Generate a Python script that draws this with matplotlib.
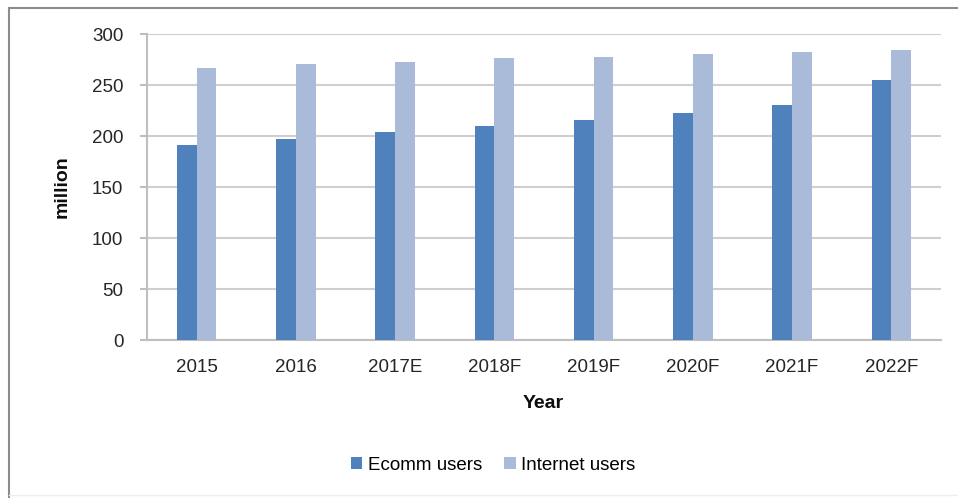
import matplotlib
matplotlib.use("Agg")
import matplotlib.pyplot as plt
from matplotlib.lines import Line2D
import numpy as np

years = ["2015", "2016", "2017E", "2018F", "2019F", "2020F", "2021F", "2022F"]
ecomm_users = [191, 197, 204, 210, 216, 223, 230, 255]
internet_users = [267, 271, 273, 276, 277, 280, 282, 284]
y_ticks = [0, 50, 100, 150, 200, 250, 300]

plt.rcParams['font.family'] = ['Liberation Sans', 'DejaVu Sans']

fig = plt.figure(figsize=(9.58, 4.98), dpi=100)
ax = fig.add_axes([147/958, 1-340/498, (941-147)/958, (340-34)/498])

x = np.arange(len(years))
w = 0.2
ax.bar(x - w/2, ecomm_users, width=w, color="#4F81BD", label="Ecomm users", zorder=3)
ax.bar(x + w/2, internet_users, width=w, color="#AABBD9", label="Internet users", zorder=3)

ax.set_xlim(-0.5, len(years) - 0.5)
ax.set_ylim(0, 300)
ax.set_yticks(y_ticks)
ax.set_xticks(x)
ax.set_xticklabels(years)
ax.yaxis.grid(True, color="#CFCFCF", linewidth=1.5, zorder=0)
ax.set_axisbelow(True)

for s in ["top", "right"]:
    ax.spines[s].set_visible(False)
ax.spines["left"].set_color("#BFBFBF")
ax.spines["left"].set_linewidth(1.5)
ax.spines["bottom"].set_color("#BFBFBF")
ax.spines["bottom"].set_linewidth(1.5)

ax.tick_params(axis="y", length=5, width=1.5, color="#BFBFBF", pad=12, labelsize=13.5, labelcolor="#262626")
ax.tick_params(axis="x", length=0, pad=14, labelsize=13.5, labelcolor="#262626")

fig.text(62/958, 1-187/498, "million", rotation=90, ha="center", va="center",
         fontsize=14, fontweight="bold", color="#0D0D0D")
fig.text(543/958, 1-403/498, "Year", ha="center", va="center", fontsize=14,
         fontweight="bold", color="#0D0D0D")

fig.legend(loc="center", bbox_to_anchor=(493/958, 1-465/498), ncol=2, frameon=False,
           fontsize=13.5, handlelength=0.6, handleheight=0.6, handletextpad=0.3,
           columnspacing=1.2)

# outer frame (top and left edges visible)
fig.add_artist(Line2D([9/958, 9/958], [0, 1-8/498], transform=fig.transFigure,
                      color="#8C8C8C", linewidth=1.5))
fig.add_artist(Line2D([9/958, 1], [1-8/498, 1-8/498], transform=fig.transFigure,
                      color="#8C8C8C", linewidth=1.5))
fig.add_artist(Line2D([9/958, 1], [3/498, 3/498], transform=fig.transFigure,
                      color="#EEEEEE", linewidth=1))

fig.savefig("out.png", dpi=100)
